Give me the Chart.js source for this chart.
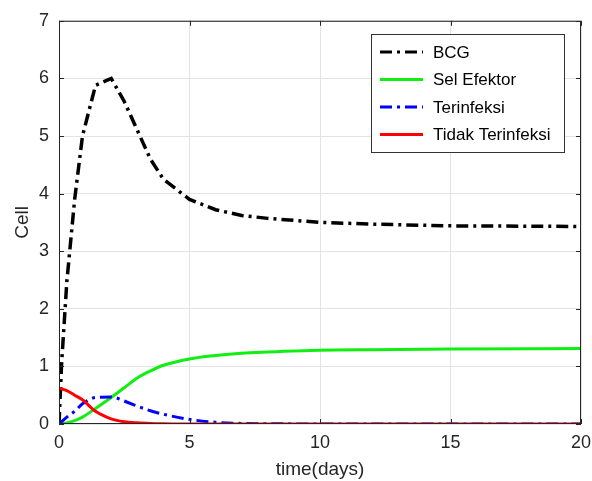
<!DOCTYPE html>
<html>
<head>
<meta charset="utf-8">
<script src="https://cdn.jsdelivr.net/npm/chart.js@4/dist/chart.umd.min.js"></script>
<style>
  html, body { margin: 0; padding: 0; background: #fff; }
  #wrap { width: 592px; height: 481px; }
</style>
</head>
<body>
<div id="wrap"><canvas id="cellChart" width="592" height="481"></canvas></div>
<script>
// time points (days)
const timeDays = [0, 0.1, 0.3, 0.6, 0.9, 1.4, 2.0, 2.5, 3.0, 3.5, 4.0, 5.0, 6.0, 7.0, 8.0, 10.0, 12.0, 15.0, 20.0];

const bcg        = [0, 1.05, 2.47, 3.9, 5.0, 5.88, 6.0, 5.6, 5.1, 4.6, 4.25, 3.9, 3.72, 3.62, 3.57, 3.5, 3.47, 3.44, 3.43];
const selEfektor = [0, 0.005, 0.02, 0.06, 0.12, 0.27, 0.46, 0.63, 0.8, 0.92, 1.02, 1.13, 1.19, 1.23, 1.25, 1.28, 1.29, 1.3, 1.31];
const terinfeksi = [0, 0.04, 0.12, 0.22, 0.35, 0.46, 0.47, 0.4, 0.31, 0.23, 0.17, 0.08, 0.03, 0.01, 0.005, 0, 0, 0, 0];
const tidakTerinfeksi = [0.62, 0.61, 0.58, 0.5, 0.42, 0.22, 0.09, 0.04, 0.02, 0.01, 0.005, 0, 0, 0, 0, 0, 0, 0, 0];

const xTicks = [0, 5, 10, 15, 20];
const yTicks = [0, 1, 2, 3, 4, 5, 6, 7];

const FONT = 'Liberation Sans, Arial, Helvetica, sans-serif';
const AXIS_COLOR = '#262626';

function toPoints(values) {
  return timeDays.map((t, i) => ({ x: t, y: values[i] }));
}

// box around the plot + inward ticks, like matlab
const boxPlugin = {
  id: 'box',
  afterDraw(chart) {
    const { ctx, chartArea: a, scales } = chart;
    ctx.save();
    ctx.strokeStyle = AXIS_COLOR;
    ctx.lineWidth = 1;
    ctx.strokeRect(a.left + 0.5, a.top + 0.5, a.right - a.left - 1, a.bottom - a.top - 1);
    ctx.beginPath();
    xTicks.forEach(v => {
      const px = Math.round(scales.x.getPixelForValue(v)) + 0.5;
      ctx.moveTo(px, a.bottom); ctx.lineTo(px, a.bottom - 5);
      ctx.moveTo(px, a.top); ctx.lineTo(px, a.top + 5);
    });
    yTicks.forEach(v => {
      const py = Math.round(scales.y.getPixelForValue(v)) + 0.5;
      ctx.moveTo(a.left, py); ctx.lineTo(a.left + 5, py);
      ctx.moveTo(a.right, py); ctx.lineTo(a.right - 5, py);
    });
    ctx.stroke();
    ctx.restore();
  }
};

// legend box inside the plot, top right
const legendBoxPlugin = {
  id: 'legendBox',
  afterDraw(chart) {
    const { ctx } = chart;
    const x0 = 371, y0 = 34, w = 193, h = 118;
    ctx.save();
    ctx.fillStyle = '#fff';
    ctx.fillRect(x0, y0, w, h);
    ctx.strokeStyle = '#333';
    ctx.lineWidth = 1;
    ctx.strokeRect(x0 + 0.5, y0 + 0.5, w, h);
    ctx.font = '17px ' + FONT;
    ctx.textBaseline = 'middle';
    chart.data.datasets.forEach((ds, i) => {
      const y = y0 + 18 + i * 27.5;
      ctx.beginPath();
      ctx.strokeStyle = ds.borderColor;
      ctx.lineWidth = 3;
      ctx.setLineDash(ds.borderDash || []);
      ctx.moveTo(x0 + 9, y);
      ctx.lineTo(x0 + 52, y);
      ctx.stroke();
      ctx.setLineDash([]);
      ctx.fillStyle = '#000';
      ctx.fillText(ds.label, x0 + 62, y + 1);
    });
    ctx.restore();
  }
};

new Chart(document.getElementById('cellChart').getContext('2d'), {
  type: 'line',
  data: {
    datasets: [
      { label: 'BCG', data: toPoints(bcg), borderColor: '#000000', borderDash: [12, 5, 3, 5], borderWidth: 3.5, tension: 0, order: 4 },
      { label: 'Sel Efektor', data: toPoints(selEfektor), borderColor: '#11ee11', borderWidth: 3, cubicInterpolationMode: 'monotone', order: 3 },
      { label: 'Terinfeksi', data: toPoints(terinfeksi), borderColor: '#0000ff', borderDash: [12, 5, 3, 5], borderWidth: 3, cubicInterpolationMode: 'monotone', order: 2 },
      { label: 'Tidak Terinfeksi', data: toPoints(tidakTerinfeksi), borderColor: '#ff0000', borderWidth: 3, cubicInterpolationMode: 'monotone', order: 1 }
    ]
  },
  options: {
    responsive: false,
    animation: false,
    layout: { padding: { top: 16, right: 11, left: 0, bottom: 0 } },
    elements: { point: { radius: 0 } },
    plugins: { legend: { display: false }, tooltip: { enabled: false } },
    scales: {
      x: {
        type: 'linear',
        min: 0, max: 20,
        afterBuildTicks: s => { s.ticks = xTicks.map(v => ({ value: v })); },
        afterFit: s => { s.height = 57; s.paddingLeft = 0; s.paddingRight = 0; },
        grid: { color: '#e3e3e3', drawTicks: false },
        border: { display: false },
        ticks: { color: AXIS_COLOR, font: { family: FONT, size: 18 }, padding: 8, maxRotation: 0 },
        title: { display: true, text: 'time(days)', color: AXIS_COLOR, font: { family: FONT, size: 19 }, padding: { top: 0, bottom: 0 } }
      },
      y: {
        min: 0, max: 7,
        afterBuildTicks: s => { s.ticks = yTicks.map(v => ({ value: v })); },
        afterFit: s => { s.width = 59; },
        grid: { color: '#e3e3e3', drawTicks: false },
        border: { display: false },
        ticks: { color: AXIS_COLOR, font: { family: FONT, size: 18 }, padding: 10 },
        title: { display: true, text: 'Cell', color: AXIS_COLOR, font: { family: FONT, size: 19 }, padding: { top: 11, bottom: 0 } }
      }
    }
  },
  plugins: [boxPlugin, legendBoxPlugin]
});
</script>
</body>
</html>
